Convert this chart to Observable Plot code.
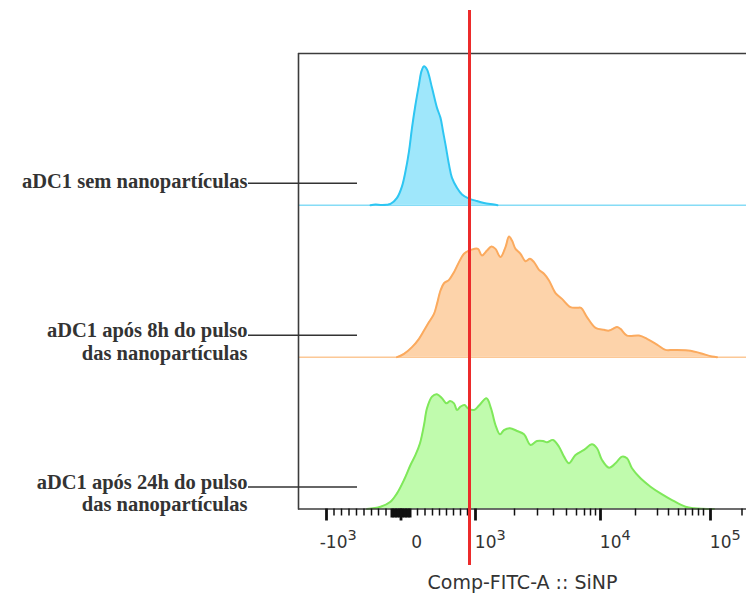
<!DOCTYPE html>
<html><head><meta charset="utf-8">
<script src="https://cdn.jsdelivr.net/npm/d3@7"></script>
<script src="https://cdn.jsdelivr.net/npm/@observablehq/plot@0.6"></script>
<style>body{margin:0;background:#fff;overflow:hidden}</style>
</head><body>
<script>
// Sample names (stacked from top to bottom) and their lane index
const samples = ["aDC1 sem nanopartículas", "aDC1 após 8h do pulso\ndas nanopartículas", "aDC1 após 24h do pulso\ndas nanopartículas"];
const lanes = [2, 1, 0];

// Histograms: x in display channel units, counts in % of lane height
const blueChannel = [144, 154, 164, 176, 184, 197, 207, 214, 221, 227, 234, 241, 246, 251, 257, 267, 277, 284, 289, 294, 301, 307, 317, 327, 341, 354, 371, 391, 398];
const blueCount = [0, 0.5, 0.3, 0.4, 0.9, 4.9, 12.5, 22.4, 35.6, 51.0, 66.4, 79.6, 88.4, 91.6, 89.5, 77.4, 64.2, 57.6, 48.8, 40.0, 26.8, 18.1, 11.5, 7.1, 4.4, 3.1, 1.6, 0.5, 0];

const orangeChannel = [197, 211, 227, 241, 251, 261, 271, 277, 284, 291, 301, 311, 321, 331, 341, 351, 359, 367, 377, 386, 394, 404, 414, 421, 427, 434, 444, 454, 463, 471, 481, 491, 501, 514, 527, 544, 557, 565, 577, 594, 611, 621, 637, 644, 657, 681, 697, 717, 734, 751, 784, 804, 827, 837];
const orangeCount = [0, 2.2, 6.6, 12.1, 17.5, 23.1, 28.5, 35.1, 43.9, 48.7, 50.9, 56.0, 62.6, 68.1, 70.2, 71.3, 71.3, 66.9, 70.2, 72.9, 71.3, 65.9, 72.5, 79.4, 76.8, 71.3, 68.1, 63.2, 64.8, 62.6, 57.5, 54.9, 50.5, 42.2, 38.4, 32.9, 32.5, 32.5, 26.4, 19.3, 18.0, 17.5, 19.8, 18.6, 14.2, 14.2, 12.1, 8.3, 4.8, 4.8, 4.3, 2.6, 0.4, 0];

const greenChannel = [137, 164, 184, 197, 211, 224, 234, 243, 251, 257, 267, 277, 287, 296, 303, 311, 317, 324, 332, 339, 351, 361, 376, 385, 394, 403, 411, 423, 437, 451, 464, 477, 489, 497, 509, 521, 531, 541, 554, 571, 587, 597, 607, 621, 634, 647, 657, 667, 684, 704, 724, 747, 774, 791, 831];
const greenCount = [0, 1.5, 4.8, 10.3, 19.1, 29.0, 35.6, 43.3, 55.3, 66.3, 74.0, 75.6, 72.9, 69.6, 71.1, 69.6, 65.2, 67.4, 68.5, 66.3, 65.2, 68.1, 72.9, 66.3, 55.3, 49.2, 52.0, 53.2, 51.4, 49.2, 42.2, 44.8, 44.8, 43.9, 45.5, 41.0, 34.5, 30.1, 35.6, 38.9, 42.6, 40.0, 32.3, 27.2, 30.1, 34.5, 33.4, 26.8, 20.2, 14.7, 10.3, 5.9, 1.5, 0.5, 0];

// Axis ticks (display channel positions) and labels
const majorTicks = [56, 205, 354, 604, 824];
const majorTickBase = ["-10", "0", "10", "10", "10"];
const majorTickExp = ["3", "", "3", "4", "5"];
const minorTicks = [71, 86, 101, 116, 131, 146, 160, 175, 238, 253, 268, 282, 296, 310, 324, 338, 432, 478, 510, 536, 556, 572, 584, 594, 674, 718, 740, 760, 774, 788, 800, 810, 887];
const zeroTicks = [186, 189, 192, 195, 198, 201, 205, 209, 212, 215, 218, 221, 224];
const gateChannel = 342;
const axisTitle = "Comp-FITC-A :: SiNP";

const strokeColors = ["#2ec6f2", "#fbaa5e", "#7fe85a"];
const fillColors = ["#9fe7fb", "#fdd3aa", "#c0fbad"];
const baseColors = ["#86dcf6", "#fcc896", "#a8f28e"];

const channels = [blueChannel, orangeChannel, greenChannel];
const counts = [blueCount, orangeCount, greenCount];
const series = samples.map((name, i) => ({
  name, lane: lanes[i],
  rows: channels[i].map((c, j) => ({c, h: counts[i][j], lane: lanes[i]}))
}));
const labelRows = samples.map((name, i) => ({name, lane: lanes[i]}));

const frameColor = "#3c3c3c";
const leaderStart = -100, leaderEnd = 118;
const curveTop = (d) => d.lane + d.h / 100;

const chart = Plot.plot({
  width: 746,
  height: 594,
  marginLeft: 298,
  marginRight: 0,
  marginTop: 53,
  marginBottom: 85.5,
  style: {fontFamily: "DejaVu Sans", background: "#fff"},
  x: {domain: [0, 920], range: [298, 758], label: null},
  y: {domain: [0, 3], axis: null},
  marks: [
    Plot.ruleY([2], {stroke: baseColors[0], strokeWidth: 1.5}),
    Plot.ruleY([1], {stroke: baseColors[1], strokeWidth: 1.5}),
    ...series.map((s, i) => Plot.areaY(s.rows, {x: "c", y1: "lane", y2: curveTop, fill: fillColors[i], curve: "catmull-rom"})),
    ...series.map((s, i) => Plot.lineY(s.rows, {x: "c", y: curveTop, stroke: strokeColors[i], strokeWidth: 2, curve: "catmull-rom"})),
    // frame (top, left, bottom)
    Plot.ruleY([3], {x1: 0, x2: 920, stroke: frameColor, strokeWidth: 1.6}),
    Plot.ruleY([0], {x1: 0, x2: 920, stroke: frameColor, strokeWidth: 1.6}),
    Plot.ruleX([0], {stroke: frameColor, strokeWidth: 1.6, insetBottom: -1}),
    // leaders and labels
    Plot.ruleY(labelRows, {y: (d) => d.lane + 0.145, x1: leaderStart, x2: leaderEnd, stroke: "#333", strokeWidth: 1.5}),
    Plot.text(labelRows.slice(0, 1), {x: leaderStart, y: (d) => d.lane + 0.145, text: "name", textAnchor: "end", lineAnchor: "middle", dx: -1, dy: -1.5, fontSize: 20.5, fontWeight: "bold", fontFamily: "Liberation Serif", fill: "#333"}),
    Plot.text(labelRows.slice(1), {x: leaderStart, y: (d) => d.lane + 0.145, text: "name", textAnchor: "end", lineAnchor: "middle", dx: -1, dy: 5.8, lineHeight: 1.11, fontSize: 20.5, fontWeight: "bold", fontFamily: "Liberation Serif", fill: "#333"}),
    // axis ticks
    Plot.axisX(minorTicks, {tickSize: 7, strokeWidth: 1.5, stroke: "#111", fill: "none", label: null}),
    Plot.axisX(zeroTicks, {tickSize: 9, strokeWidth: 2, stroke: "#111", fill: "none", label: null}),
    Plot.axisX(majorTicks, {tickSize: 12, strokeWidth: 2.8, stroke: "#111", fill: "none", label: null}),
    Plot.text(majorTicks, {x: (d) => d, text: (d, i) => majorTickBase[i], frameAnchor: "bottom", textAnchor: "end", lineAnchor: "middle", dx: 21, dy: 34, fontSize: 17, fill: "#333"}),
    Plot.text(majorTicks, {x: (d) => d, text: (d, i) => majorTickExp[i], frameAnchor: "bottom", textAnchor: "start", lineAnchor: "middle", dx: 21, dy: 26, fontSize: 14.5, fill: "#333"}),
    Plot.text([axisTitle], {text: (d) => d, frameAnchor: "bottom", lineAnchor: "middle", dy: 73.5, fontSize: 19, fill: "#333"}),
    // gate line
    Plot.ruleX([gateChannel], {stroke: "#ec2b2b", strokeWidth: 3, insetTop: -43, insetBottom: -56.5})
  ]
});
document.body.appendChild(chart);
</script>
</body></html>
